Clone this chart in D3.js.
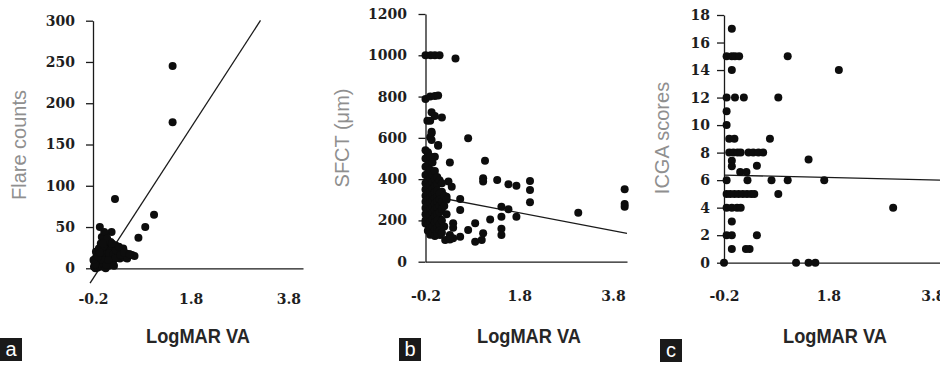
<!DOCTYPE html>
<html>
<head>
<meta charset="utf-8">
<script src="https://cdn.jsdelivr.net/npm/d3@7"></script>
<style>
  body { margin: 0; background: #fff; }
  svg { display: block; }
</style>
</head>
<body>
<figure id="panels" style="margin:0"></figure>
<script>
// x axis (shared by all three panels)
const vaTicks = [-0.2, 1.8, 3.8];
const vaDomain = [-0.2, 4.1];

// panel a : LogMAR VA vs flare counts  [x, y]
const flarePoints = [
  [1.43, 245], [1.43, 177], [0.25, 84], [1.05, 65], [0.87, 50], [0.73, 37],
  [-0.06, 50], [0.18, 44], [0.54, 17],
  [-0.18, 2], [-0.17, 8], [-0.15, 12], [-0.15, 0], [-0.12, 4], [-0.1, 8], [-0.1, 1],
  [-0.08, 12], [-0.06, 3], [-0.05, 6], [-0.04, 15], [-0.02, 9], [0, 2], [0, 18],
  [0.02, 22], [0.02, 5], [0.04, 28], [0.04, 12], [0.05, 35], [0.06, 40], [0.07, 25],
  [0.08, 16], [0.08, 8], [0.1, 30], [0.1, 20], [0.12, 3], [0.12, 26], [0.14, 12],
  [0.15, 22], [0.16, 32], [0.18, 18], [0.2, 25], [0.22, 10], [0.24, 20], [0.26, 28],
  [0.28, 14], [0.3, 22], [0.32, 18], [0.35, 12], [0.38, 20], [0.4, 15], [0.42, 24],
  [0.45, 13], [0.48, 18], [0.5, 12], [0.6, 16], [0.65, 15], [-0.02, 38], [0.03, 32],
  [-0.12, 16], [-0.16, 5], [0, 10], [0.06, 0], [-0.19, 10], [-0.14, 20], [-0.08, 24],
  [-0.04, 30], [0.01, 26], [0.03, 44], [0.09, 36], [0.13, 18], [0.17, 8], [0.21, 16],
  [0.25, 12], [0.27, 22], [0.33, 26], [0.36, 16], [0.44, 19], [0.55, 17], [-0.1, 14],
  [-0.06, 19], [0.0, 30], [0.07, 4], [0.11, 10], [0.19, 30], [0.23, 3]
];
const flareTicks = [0, 50, 100, 150, 200, 250, 300];
const flareFit = [5.7, 91.2];          // intercept, slope
const flareFitRange = [-0.26, 3.23];

// panel b : LogMAR VA vs SFCT
const sfctPoints = [
  [-0.2, 1000], [-0.09, 1000], [0, 1000], [0.1, 1000], [0.44, 985],
  [-0.2, 788], [-0.1, 800], [0, 803], [0.07, 805],
  [-0.07, 724], [0, 706], [0.15, 698], [-0.16, 683], [-0.1, 683],
  [-0.07, 630], [-0.1, 603], [0.07, 562], [-0.07, 622], [-0.07, 590], [0.07, 565],
  [-0.15, 525], [-0.15, 501], [0, 509],
  [0.71, 598], [0.32, 480], [1.07, 489], [1.03, 404], [1.03, 388], [1.33, 396],
  [1.57, 375], [1.74, 368], [2.03, 391], [2.03, 347], [2.03, 288], [3.06, 237],
  [4.05, 351], [4.05, 280], [4.05, 266],
  [1.42, 266], [1.57, 254], [1.74, 218], [1.42, 218], [1.42, 160], [1.42, 129],
  [1.18, 205], [1.03, 138], [1.0, 105], [0.86, 186], [0.86, 97], [0.71, 153],
  [0.54, 304], [0.54, 250], [0.39, 186], [0.39, 164], [0.32, 129], [0.39, 113], [0.54, 121],
  [0.29, 388], [0.36, 363], [0.15, 339], [0.25, 315], [0.11, 207], [0.11, 153], [0.11, 129],
  [0.22, 105], [0.32, 108],
  [-0.2, 540], [-0.2, 500], [-0.2, 460], [-0.2, 420], [-0.2, 380], [-0.2, 350], [-0.2, 320],
  [-0.2, 290], [-0.2, 260], [-0.2, 230], [-0.2, 200], [-0.2, 185],
  [-0.15, 530], [-0.15, 470], [-0.15, 430], [-0.15, 395], [-0.15, 360], [-0.15, 330],
  [-0.15, 300], [-0.15, 275], [-0.15, 245], [-0.15, 215], [-0.15, 180], [-0.15, 150],
  [-0.1, 510], [-0.1, 445], [-0.1, 405], [-0.1, 370], [-0.1, 340], [-0.1, 310], [-0.1, 285],
  [-0.1, 255], [-0.1, 225], [-0.1, 195], [-0.1, 160], [-0.1, 130],
  [-0.05, 480], [-0.05, 420], [-0.05, 385], [-0.05, 355], [-0.05, 325], [-0.05, 295],
  [-0.05, 265], [-0.05, 240], [-0.05, 205], [-0.05, 170], [-0.05, 140],
  [0, 440], [0, 400], [0, 365], [0, 335], [0, 305], [0, 280], [0, 250], [0, 220], [0, 190],
  [0, 155], [0, 125],
  [0.05, 410], [0.05, 375], [0.05, 345], [0.05, 315], [0.05, 290], [0.05, 260], [0.05, 230],
  [0.05, 200], [0.05, 165], [0.05, 135],
  [0.1, 395], [0.1, 330], [0.1, 300], [0.1, 270], [0.1, 240], [0.1, 180], [0.1, 150],
  [0.15, 380], [0.15, 290], [0.15, 255], [0.15, 200], [0.15, 140],
  [0.2, 320], [0.2, 270], [0.2, 170], [0.25, 300], [0.25, 230]
];
const sfctTicks = [0, 200, 400, 600, 800, 1000, 1200];
const sfctFit = [314.5, -43.2];
const sfctFitRange = [-0.2, 4.1];

// panel c : LogMAR VA vs ICGA scores
const icgaPoints = [
  [-0.05, 17], [-0.15, 15], [-0.05, 15], [0.01, 15], [0.09, 15], [-0.05, 14],
  [-0.15, 12], [0.01, 12], [0.18, 12], [-0.15, 11], [-0.15, 10], [-0.1, 9], [0, 9],
  [-0.1, 8], [-0.02, 8], [0.06, 8], [0.12, 8], [0.27, 8], [0.36, 8], [0.46, 8], [0.55, 8],
  [-0.05, 7.4], [-0.05, 7.0], [0.43, 7.05], [0.11, 6.6], [0.23, 6.6],
  [-0.15, 6], [0.25, 6], [0.71, 6], [1.02, 6], [1.72, 6],
  [0.68, 9], [0.84, 12], [1.02, 15], [2.0, 14], [1.42, 7.5], [0.84, 5],
  [-0.15, 5], [-0.08, 5], [0, 5], [0.08, 5], [0.16, 5], [0.24, 5], [0.32, 5], [0.38, 5],
  [-0.15, 4], [-0.05, 4], [0.05, 4], [0.12, 4], [-0.05, 3], [-0.15, 2], [-0.05, 2], [0.43, 2],
  [-0.05, 1], [0.22, 1], [0.29, 1], [-0.2, 0], [1.18, 0], [1.42, 0], [1.55, 0], [3.04, 4]
];
const icgaTicks = [0, 2, 4, 6, 8, 10, 12, 14, 16, 18];
const icgaFit = [6.35, -0.087];
const icgaFitRange = [-0.2, 4.1];

const panelLetters = ["a", "b", "c"];
const yTitles = ["Flare counts", "SFCT (\u03bcm)", "ICGA scores"];

const width = 940, height = 365;

const svg = d3.select("figure#panels")
  .append("svg")
  .attr("width", width)
  .attr("height", height);

// where each panel sits in the picture
const panels = [
  { points: flarePoints, ticks: flareTicks, fit: flareFit, fitRange: flareFitRange,
    left: 93, right: 303, top: 20.7, bottom: 268.3, pad: 11,
    xLabelY: 299, titleX: 198, ytX: 26, ytY: 145, box: [0, 338] },
  { points: sfctPoints, ticks: sfctTicks, fit: sfctFit, fitRange: sfctFitRange,
    left: 425.5, right: 627, top: 14, bottom: 261.7, pad: 11.5,
    xLabelY: 296.5, titleX: 529, ytX: 349, ytY: 138, box: [399, 338] },
  { points: icgaPoints, ticks: icgaTicks, fit: icgaFit, fitRange: icgaFitRange,
    left: 724, right: 948.5, top: 15, bottom: 262.7, pad: 7,
    xLabelY: 296, titleX: 835, ytX: 669, ytY: 138, box: [660, 339] }
];

function drawPanel(p, i) {
  const x = d3.scaleLinear().domain(vaDomain).range([p.left, p.right]);
  const y = d3.scaleLinear().domain([0, d3.max(p.ticks)]).range([p.bottom, p.top]);
  const g = svg.append("g");

  // horizontal axis, labels only
  g.append("g")
    .attr("transform", "translate(0," + p.bottom + ")")
    .call(d3.axisBottom(x).tickValues(vaTicks).tickSize(0).tickSizeOuter(0)
      .tickFormat(d => d.toFixed(1)))
    .call(a => a.selectAll("text").attr("y", p.xLabelY - p.bottom).attr("dy", "0.35em"));

  // vertical axis
  g.append("g")
    .attr("transform", "translate(" + p.left + ",0)")
    .call(d3.axisLeft(y).tickValues(p.ticks).tickSize(7).tickSizeOuter(0).tickPadding(p.pad)
      .tickFormat(d => String(d)));

  g.selectAll(".domain, .tick line").attr("stroke", "#1a1a1a").attr("stroke-width", 1.3);
  g.selectAll(".tick text")
    .style("font-family", "'DejaVu Serif', 'Liberation Serif', serif")
    .style("font-weight", "bold")
    .style("font-size", "14px")
    .style("fill", "#1e1e1e");

  // trend line
  const line = d3.line().x(d => x(d)).y(d => y(p.fit[0] + p.fit[1] * d));
  g.append("path")
    .attr("d", line(p.fitRange))
    .attr("fill", "none")
    .attr("stroke", "#1a1a1a")
    .attr("stroke-width", 1.3);

  g.selectAll("circle")
    .data(p.points)
    .enter()
    .append("circle")
    .attr("cx", d => x(d[0]))
    .attr("cy", d => y(d[1]))
    .attr("r", 4)
    .attr("fill", "#0d0d0d");

  // axis titles
  g.append("text")
    .text("LogMAR VA")
    .attr("x", p.titleX)
    .attr("y", 343)
    .attr("text-anchor", "middle")
    .attr("textLength", 104)
    .attr("lengthAdjust", "spacingAndGlyphs")
    .style("font-family", "Liberation Sans, Arial, sans-serif")
    .style("font-weight", "bold")
    .style("font-size", "21px")
    .attr("fill", "#262626");

  g.append("text")
    .text(yTitles[i])
    .attr("transform", "translate(" + p.ytX + "," + p.ytY + ") rotate(-90)")
    .attr("text-anchor", "middle")
    .style("font-family", "Liberation Sans, Arial, sans-serif")
    .style("font-size", "20px")
    .attr("fill", "#8f8f8f");

  // panel letter
  g.append("rect")
    .attr("x", p.box[0]).attr("y", p.box[1])
    .attr("width", 22).attr("height", 23)
    .attr("fill", "#1a1a1a");
  g.append("text")
    .text(panelLetters[i])
    .attr("x", p.box[0] + 11)
    .attr("y", p.box[1] + 18)
    .attr("text-anchor", "middle")
    .style("font-family", "Liberation Sans, Arial, sans-serif")
    .style("font-size", "20px")
    .attr("fill", "#fff");
}

panels.forEach(drawPanel);
</script>
</body>
</html>
